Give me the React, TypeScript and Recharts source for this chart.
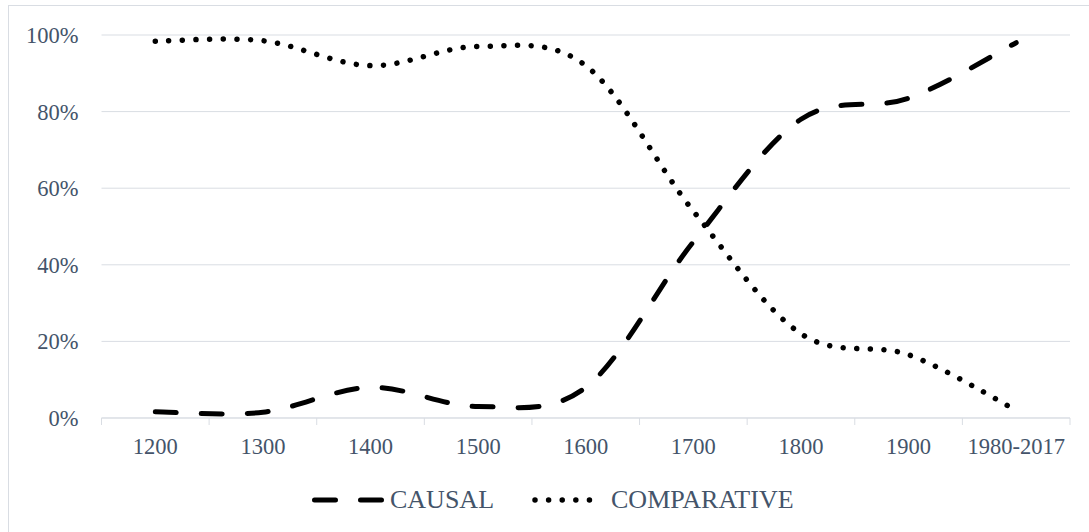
import React from "react";
import { CartesianGrid, Legend, Line, LineChart, XAxis, YAxis } from "recharts";

const PERIODS = ["1200", "1300", "1400", "1500", "1600", "1700", "1800", "1900", "1980-2017"];
const CAUSAL = [1.6, 1.5, 8, 3, 8, 46, 78, 83.5, 98];
const COMPARATIVE = [98.4, 98.5, 92, 97, 92, 54, 22, 16.5, 2];
const PERCENT_TICKS = [0, 20, 40, 60, 80, 100];

const WIDTH = 1089;
const HEIGHT = 532;
const MARGIN = { top: 35, right: 19, bottom: 0, left: 0 };
const Y_AXIS_WIDTH = 101.5;
const X_AXIS_HEIGHT = 114;
const BAND = (WIDTH - MARGIN.right - Y_AXIS_WIDTH) / PERIODS.length;

const FONT = '"Liberation Serif", "Times New Roman", serif';
const TEXT = "#44546a";
const GRID = "#d9dde3";
const CAUSAL_DASH = "21 25";
const DOT_DASH = "0.01 13.6";

const rows = PERIODS.map((period, i) => ({
  period,
  causal: CAUSAL[i],
  comparative: COMPARATIVE[i],
}));

// smooth line like the office "smoothed line" option (catmull-rom style beziers)
const officeSmooth = (context: any) => {
  let pts: number[][] = [];
  return {
    areaStart() {},
    areaEnd() {},
    lineStart() {
      pts = [];
    },
    point(x: number, y: number) {
      pts.push([+x, +y]);
    },
    lineEnd() {
      if (!pts.length) return;
      context.moveTo(pts[0][0], pts[0][1]);
      for (let i = 0; i < pts.length - 1; i++) {
        const p0 = pts[i - 1] ?? pts[i];
        const p1 = pts[i];
        const p2 = pts[i + 1];
        const p3 = pts[i + 2] ?? p2;
        context.bezierCurveTo(
          p1[0] + (p2[0] - p0[0]) / 6,
          p1[1] + (p2[1] - p0[1]) / 6,
          p2[0] - (p3[0] - p1[0]) / 6,
          p2[1] - (p3[1] - p1[1]) / 6,
          p2[0],
          p2[1],
        );
      }
    },
  };
};

const PeriodTick = (props: any) => {
  const { x, y, payload, index } = props;
  const half = BAND / 2;
  return (
    <g>
      <line x1={x - half} x2={x - half} y1={y} y2={y + 7} stroke={GRID} />
      {index === PERIODS.length - 1 && (
        <line x1={x + half} x2={x + half} y1={y} y2={y + 7} stroke={GRID} />
      )}
      <text x={x} y={y + 36} textAnchor="middle" fill={TEXT} fontSize={22.5} fontFamily={FONT}>
        {payload.value}
      </text>
    </g>
  );
};

const renderLegend = () => (
  <div
    style={{
      display: "flex",
      alignItems: "center",
      fontFamily: FONT,
      fontSize: 26,
      color: TEXT,
      lineHeight: "30px",
      whiteSpace: "nowrap",
    }}
  >
    <svg width={72} height={10}>
      <line x1={2.5} x2={69.5} y1={5} y2={5} stroke="#000" strokeWidth={5} strokeDasharray={CAUSAL_DASH} strokeLinecap="round" />
    </svg>
    <span style={{ marginLeft: 6 }}>CAUSAL</span>
    <svg width={61} height={10} style={{ marginLeft: 38 }}>
      <line x1={3} x2={57.5} y1={5} y2={5} stroke="#000" strokeWidth={5.5} strokeDasharray={DOT_DASH} strokeLinecap="round" />
    </svg>
    <span style={{ marginLeft: 18 }}>COMPARATIVE</span>
  </div>
);

export default function App() {
  return (
    <div
      style={{
        position: "fixed",
        left: 0,
        top: 0,
        width: WIDTH,
        height: HEIGHT,
        overflow: "hidden",
        background: "#fff",
      }}
    >
      <div
        style={{
          position: "absolute",
          left: 8,
          top: 5,
          width: 1200,
          height: 700,
          border: `1px solid ${GRID}`,
        }}
      />
      <div style={{ position: "absolute", left: 0, top: 0 }}>
        <LineChart width={WIDTH} height={HEIGHT} data={rows} margin={MARGIN}>
          <CartesianGrid stroke={GRID} vertical={false} />
          <XAxis
            dataKey="period"
            height={X_AXIS_HEIGHT}
            padding={{ left: BAND / 2, right: BAND / 2 }}
            interval={0}
            axisLine={{ stroke: GRID }}
            tickLine={false}
            tickSize={0}
            tickMargin={0}
            tick={<PeriodTick />}
          />
          <YAxis
            domain={[0, 100]}
            ticks={PERCENT_TICKS}
            tickFormatter={(v) => `${v}%`}
            width={Y_AXIS_WIDTH}
            axisLine={false}
            tickLine={false}
            tickSize={0}
            tickMargin={23}
            tick={{ fill: TEXT, fontSize: 22.5, fontFamily: FONT }}
          />
          <Legend
            layout="horizontal"
            verticalAlign="middle"
            align="center"
            content={renderLegend}
            wrapperStyle={{ left: 312, top: 484.5, width: 700, bottom: "auto" }}
          />
          <Line
            dataKey="causal"
            name="CAUSAL"
            type={officeSmooth as any}
            stroke="#000"
            strokeWidth={5}
            strokeDasharray={CAUSAL_DASH}
            strokeLinecap="round"
            dot={false}
            activeDot={false}
            isAnimationActive={false}
          />
          <Line
            dataKey="comparative"
            name="COMPARATIVE"
            type={officeSmooth as any}
            stroke="#000"
            strokeWidth={5.5}
            strokeDasharray={DOT_DASH}
            strokeLinecap="round"
            dot={false}
            activeDot={false}
            isAnimationActive={false}
          />
        </LineChart>
      </div>
    </div>
  );
}
